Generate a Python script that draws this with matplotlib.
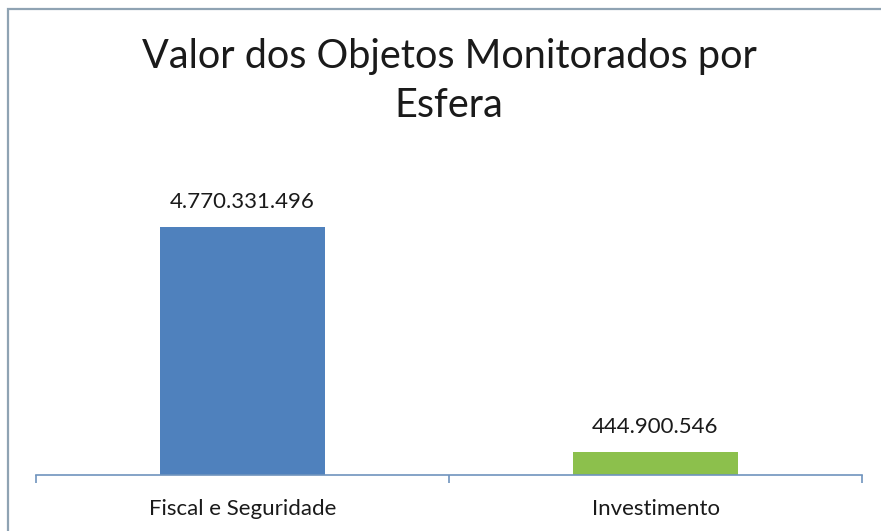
import matplotlib.pyplot as plt
from matplotlib.patches import Rectangle

categorias = ['Fiscal e Seguridade', 'Investimento']
valores = [4770331496, 444900546]
rotulos = ['4.770.331.496', '444.900.546']
cores = ['#4f81bd', '#8cc04c']
titulo = 'Valor dos Objetos Monitorados por\nEsfera'

plt.rcParams['font.family'] = ['Lato', 'DejaVu Sans']

W, H = 881, 531
fig = plt.figure(figsize=(W / 100, H / 100), dpi=100)
fig.patch.set_facecolor('white')

# moldura do gráfico (cortada à direita e embaixo)
fig.patches.append(Rectangle((8 / W, -0.1), 1.2, 1.1 - 9 / H, transform=fig.transFigure,
                             fill=False, edgecolor='#8fa3b3', lw=1.6))

ymax = 5.5e9
bar_px = 248
ax_h = bar_px * ymax / valores[0] / H
ax = fig.add_axes([36 / W, 1 - 475 / H, (862 - 36) / W, ax_h])

x = range(len(categorias))
ax.bar(x, valores, width=0.4, color=cores, zorder=2)
for xi, v, r in zip(x, valores, rotulos):
    ax.annotate(r, (xi, v), xytext=(0, 11), textcoords='offset points',
                ha='center', va='bottom', fontsize=16, color='#1a1a1a')

ax.set_xlim(-0.5, 1.5)
ax.set_ylim(0, ymax)
ax.set_yticks([])
for s in ['top', 'right', 'left']:
    ax.spines[s].set_visible(False)
ax.spines['bottom'].set_color('#6f94bd')
ax.spines['bottom'].set_linewidth(1.2)

ax.set_xticks([-0.5, 0.5, 1.5])
ax.set_xticklabels([])
ax.tick_params(axis='x', which='major', length=6, width=1.2, color='#6f94bd', direction='out')
ax.set_xticks(list(x), minor=True)
ax.set_xticklabels(categorias, minor=True, fontsize=16, color='#1a1a1a')
ax.tick_params(axis='x', which='minor', length=0, pad=17)

fig.text(449 / W, 1 - 38 / H, titulo, ha='center', va='top', fontsize=28.5,
         color='#1a1a1a', linespacing=1.4)

fig.savefig('out.png', dpi=100, facecolor='white')
